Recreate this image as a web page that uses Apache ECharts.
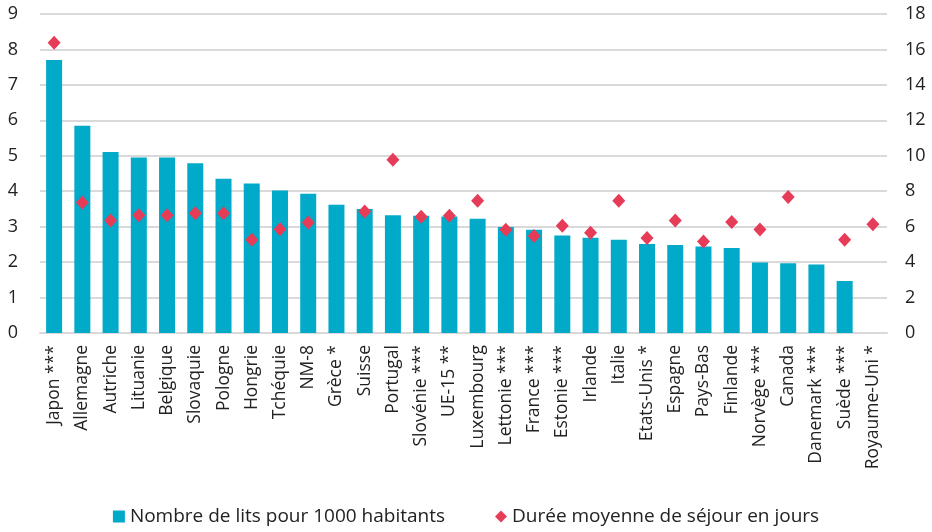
<!DOCTYPE html>
<html><head><meta charset="utf-8">
<script src="https://cdn.jsdelivr.net/npm/echarts@6/dist/echarts.min.js"></script>
<style>html,body{margin:0;padding:0;background:#fff}#c{width:932px;height:532px}</style>
</head><body><div id="c"></div>
<script>
const categories = ["Japon ***","Allemagne","Autriche","Lituanie","Belgique","Slovaquie","Pologne","Hongrie","Tchéquie","NM-8","Grèce *","Suisse","Portugal","Slovénie ***","UE-15 **","Luxembourg","Lettonie ***","France ***","Estonie ***","Irlande","Italie","Etats-Unis *","Espagne","Pays-Bas","Finlande","Norvège ***","Canada","Danemark ***","Suède ***","Royaume-Uni *"];
const lits = [7.70,5.85,5.11,4.95,4.95,4.79,4.35,4.22,4.02,3.93,3.62,3.50,3.32,3.31,3.29,3.22,2.99,2.91,2.75,2.69,2.63,2.51,2.48,2.44,2.40,1.99,1.97,1.93,1.47,null];
const duree = [16.38,7.36,6.35,6.65,6.65,6.76,6.76,5.26,5.86,6.24,null,6.86,9.77,6.56,6.61,7.46,5.82,5.47,6.05,5.65,7.46,5.36,6.35,5.16,6.27,5.84,7.67,null,5.26,6.14];
const leftTicks = {min:0,max:9,interval:1};
const rightTicks = {min:0,max:18,interval:2};

const font = "'Open Sans', sans-serif";
const chart = echarts.init(document.getElementById('c'), null, {renderer:'canvas'});
chart.setOption({
  animation:false,
  textStyle:{fontFamily:font},
  grid:{left:40,right:45,top:14,bottom:199},
  legend:{
    bottom:1, left:'center', itemGap:50, itemWidth:12, itemHeight:12,
    textStyle:{fontFamily:font,fontSize:19,color:'#222'},
    data:[{name:'Nombre de lits pour 1000 habitants',icon:'rect'},{name:'Durée moyenne de séjour en jours',icon:'diamond'}]
  },
  xAxis:{
    type:'category', data:categories,
    axisLine:{lineStyle:{color:'#d9d9d9',width:2}},
    axisTick:{show:false},
    axisLabel:{rotate:90,interval:0,fontSize:17.5,color:'#222',fontFamily:font,margin:12}
  },
  yAxis:[
    {type:'value',min:leftTicks.min,max:leftTicks.max,interval:leftTicks.interval,
     axisLine:{show:false},axisTick:{show:false},
     axisLabel:{fontSize:18,color:'#222',fontFamily:font,margin:22},
     splitLine:{lineStyle:{color:'#d9d9d9',width:2}}},
    {type:'value',min:rightTicks.min,max:rightTicks.max,interval:rightTicks.interval,
     axisLine:{show:false},axisTick:{show:false},
     axisLabel:{fontSize:18,color:'#222',fontFamily:font,margin:18},
     splitLine:{show:false}}
  ],
  series:[
    {name:'Nombre de lits pour 1000 habitants',type:'bar',data:lits,yAxisIndex:0,
     barWidth:16,itemStyle:{color:'#00aac8'}},
    {name:'Durée moyenne de séjour en jours',type:'scatter',data:duree,yAxisIndex:1,
     symbol:'diamond',symbolSize:[13,14],itemStyle:{color:'#e63c58',opacity:1}}
  ]
});
</script></body></html>
